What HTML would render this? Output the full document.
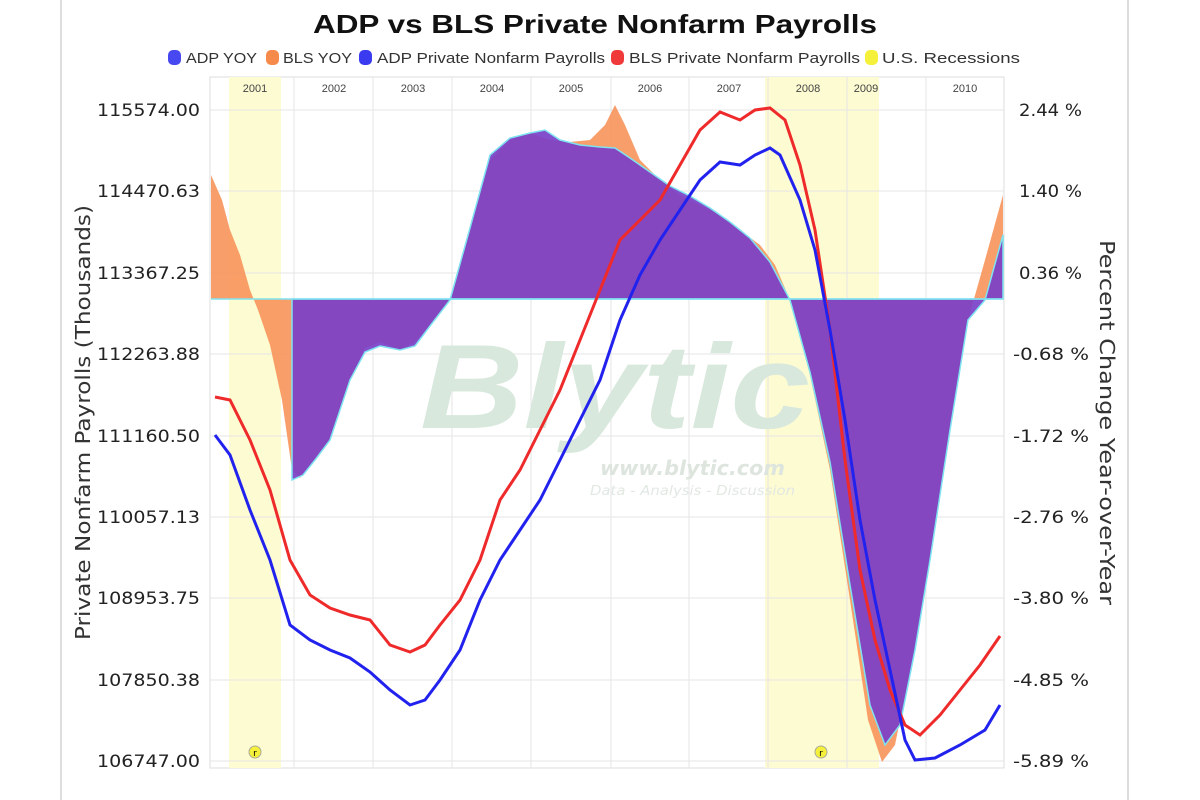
<!DOCTYPE html>
<html><head><meta charset="utf-8"><style>
body{margin:0;background:#fff;}
svg{display:block;font-family:"DejaVu Sans","Liberation Sans",sans-serif;}
</style></head><body>
<svg width="1200" height="800" viewBox="0 0 1200 800">
<rect x="61" y="-2" width="1067" height="810" fill="#fff" stroke="#ddd" stroke-width="2"/>
<text x="313" y="33" textLength="564" lengthAdjust="spacingAndGlyphs" font-size="26" font-weight="bold" fill="#111" font-family="Liberation Sans, sans-serif">ADP vs BLS Private Nonfarm Payrolls</text>
<g font-size="15" fill="#333" font-family="Liberation Sans, sans-serif">
<rect x="168" y="50" width="13" height="15" rx="5" fill="#4848f0"/><text x="186" y="63" textLength="71" lengthAdjust="spacingAndGlyphs">ADP YOY</text>
<rect x="266" y="50" width="13" height="15" rx="5" fill="#f58a4a"/><text x="283" y="63" textLength="69" lengthAdjust="spacingAndGlyphs">BLS YOY</text>
<rect x="359" y="50" width="13" height="15" rx="5" fill="#3a3af0"/><text x="377" y="63" textLength="228" lengthAdjust="spacingAndGlyphs">ADP Private Nonfarm Payrolls</text>
<rect x="611" y="50" width="13" height="15" rx="5" fill="#f03a3a"/><text x="629" y="63" textLength="231" lengthAdjust="spacingAndGlyphs">BLS Private Nonfarm Payrolls</text>
<rect x="865" y="50" width="13" height="15" rx="5" fill="#f5f03a"/><text x="882" y="63" textLength="138" lengthAdjust="spacingAndGlyphs">U.S. Recessions</text>
</g>
<rect x="210" y="77" width="794" height="691" fill="#fff" stroke="#ddd"/>
<rect x="229" y="77" width="52" height="691" fill="#fdfbd2"/>
<rect x="765" y="77" width="114" height="691" fill="#fdfbd2"/>
<g stroke="#e6e6e6">
<line x1="294" y1="77" x2="294" y2="768"/><line x1="373" y1="77" x2="373" y2="768"/><line x1="452" y1="77" x2="452" y2="768"/><line x1="531" y1="77" x2="531" y2="768"/><line x1="611" y1="77" x2="611" y2="768"/><line x1="689" y1="77" x2="689" y2="768"/><line x1="768" y1="77" x2="768" y2="768"/><line x1="847" y1="77" x2="847" y2="768"/><line x1="926" y1="77" x2="926" y2="768"/>
<line x1="210" y1="110" x2="1004" y2="110"/><line x1="210" y1="191" x2="1004" y2="191"/><line x1="210" y1="273" x2="1004" y2="273"/><line x1="210" y1="354" x2="1004" y2="354"/><line x1="210" y1="436" x2="1004" y2="436"/><line x1="210" y1="517" x2="1004" y2="517"/><line x1="210" y1="598" x2="1004" y2="598"/><line x1="210" y1="680" x2="1004" y2="680"/><line x1="210" y1="761" x2="1004" y2="761"/>
</g>
<g font-size="11" fill="#444" text-anchor="middle" font-family="Liberation Sans, sans-serif">
<text x="255" y="92">2001</text><text x="334" y="92">2002</text><text x="413" y="92">2003</text><text x="492" y="92">2004</text><text x="571" y="92">2005</text><text x="650" y="92">2006</text><text x="729" y="92">2007</text><text x="808" y="92">2008</text><text x="866" y="92">2009</text><text x="965" y="92">2010</text>
</g>
<text x="420" y="428" textLength="390" lengthAdjust="spacingAndGlyphs" font-size="120" font-style="italic" font-weight="bold" fill="#d8e8dc" font-family="Liberation Sans, sans-serif">Blytic</text>
<text x="600" y="475" textLength="185" lengthAdjust="spacingAndGlyphs" font-size="20" font-style="italic" font-weight="bold" fill="#dde5de">www.blytic.com</text>
<text x="590" y="495" textLength="205" lengthAdjust="spacingAndGlyphs" font-size="13" font-style="italic" fill="#e2e8e2">Data - Analysis - Discussion</text>
<path fill="#f7935a" fill-opacity="0.9" d="M211,299 L211,175 L222,200 L230,230 L240,255 L250,290 L258,310 L270,345 L282,400 L292,470 L300,478 L310,465 L330,440 L350,380 L365,348 L380,342 L400,350 L415,342 L430,325 L450,300 L470,230 L490,160 L510,140 L530,133 L550,140 L570,142 L590,140 L605,125 L615,105 L625,125 L640,160 L660,180 L680,195 L700,205 L720,215 L740,230 L760,245 L775,265 L790,300 L810,375 L830,470 L850,600 L868,720 L882,762 L895,745 L910,670 L930,560 L950,430 L968,320 L985,260 L1003,195 L1003,299 Z"/>
<path fill="#7a40c8" fill-opacity="0.92" stroke="#7fe3f0" stroke-width="1.5" d="M292,299 L292,480 L303,475 L315,460 L330,440 L350,380 L365,352 L380,346 L400,350 L415,346 L430,326 L450,300 L470,228 L490,155 L510,138 L530,133 L545,130 L560,140 L580,145 L600,147 L615,148 L630,158 L650,172 L670,186 L690,196 L710,208 L730,222 L750,238 L770,262 L790,300 L810,372 L830,462 L850,585 L870,705 L885,745 L900,725 L915,650 L930,560 L950,430 L968,320 L985,300 L1003,235 L1003,299 Z"/>
<line x1="211" y1="299" x2="1003" y2="299" stroke="#7fe3f0" stroke-width="1.5"/>
<polyline fill="none" stroke="#ee2a2a" stroke-width="3" points="215,397 230,400 250,440 270,490 290,560 310,595 330,608 350,615 370,620 390,645 410,652 425,645 440,625 460,600 480,560 500,500 520,470 540,430 560,390 580,340 600,290 620,240 640,220 660,200 680,165 700,130 720,112 740,120 755,110 770,108 785,120 800,165 815,230 830,330 845,460 860,570 875,640 890,690 905,725 920,735 940,715 960,690 980,665 1000,636"/>
<polyline fill="none" stroke="#2222ee" stroke-width="3" points="215,435 230,455 250,510 270,560 290,625 310,640 330,650 350,658 370,672 390,690 410,705 425,700 440,680 460,650 480,600 500,560 520,530 540,500 560,460 580,420 600,380 620,320 640,275 660,240 680,210 700,180 720,162 740,165 755,155 770,148 780,155 800,200 815,250 830,330 845,420 860,520 875,600 890,670 905,740 915,760 935,758 960,745 985,730 1000,705"/>
<circle cx="255" cy="752" r="6" fill="#f5f03a" stroke="#aa9"/><text x="255" y="756" font-size="9" text-anchor="middle">r</text>
<circle cx="821" cy="752" r="6" fill="#f5f03a" stroke="#aa9"/><text x="821" y="756" font-size="9" text-anchor="middle">r</text>
<g font-size="17" fill="#222">
<text x="97" y="116" textLength="103" lengthAdjust="spacingAndGlyphs">115574.00</text><text x="97" y="197" textLength="103" lengthAdjust="spacingAndGlyphs">114470.63</text><text x="97" y="279" textLength="103" lengthAdjust="spacingAndGlyphs">113367.25</text><text x="97" y="360" textLength="103" lengthAdjust="spacingAndGlyphs">112263.88</text><text x="97" y="442" textLength="103" lengthAdjust="spacingAndGlyphs">111160.50</text><text x="97" y="523" textLength="103" lengthAdjust="spacingAndGlyphs">110057.13</text><text x="97" y="604" textLength="103" lengthAdjust="spacingAndGlyphs">108953.75</text><text x="97" y="686" textLength="103" lengthAdjust="spacingAndGlyphs">107850.38</text><text x="97" y="767" textLength="103" lengthAdjust="spacingAndGlyphs">106747.00</text>
</g>
<g font-size="17" fill="#222">
<text x="1019" y="116" textLength="63" lengthAdjust="spacingAndGlyphs">2.44 %</text><text x="1019" y="197" textLength="63" lengthAdjust="spacingAndGlyphs">1.40 %</text><text x="1019" y="279" textLength="63" lengthAdjust="spacingAndGlyphs">0.36 %</text><text x="1013" y="360" textLength="76" lengthAdjust="spacingAndGlyphs">-0.68 %</text><text x="1013" y="442" textLength="76" lengthAdjust="spacingAndGlyphs">-1.72 %</text><text x="1013" y="523" textLength="76" lengthAdjust="spacingAndGlyphs">-2.76 %</text><text x="1013" y="604" textLength="76" lengthAdjust="spacingAndGlyphs">-3.80 %</text><text x="1013" y="686" textLength="76" lengthAdjust="spacingAndGlyphs">-4.85 %</text><text x="1013" y="767" textLength="76" lengthAdjust="spacingAndGlyphs">-5.89 %</text>
</g>
<text transform="translate(90,640) rotate(-90)" textLength="435" lengthAdjust="spacingAndGlyphs" font-size="20" fill="#333">Private Nonfarm Payrolls (Thousands)</text>
<text transform="translate(1100,240) rotate(90)" textLength="365" lengthAdjust="spacingAndGlyphs" font-size="20" fill="#333">Percent Change Year-over-Year</text>
</svg>
</body></html>
